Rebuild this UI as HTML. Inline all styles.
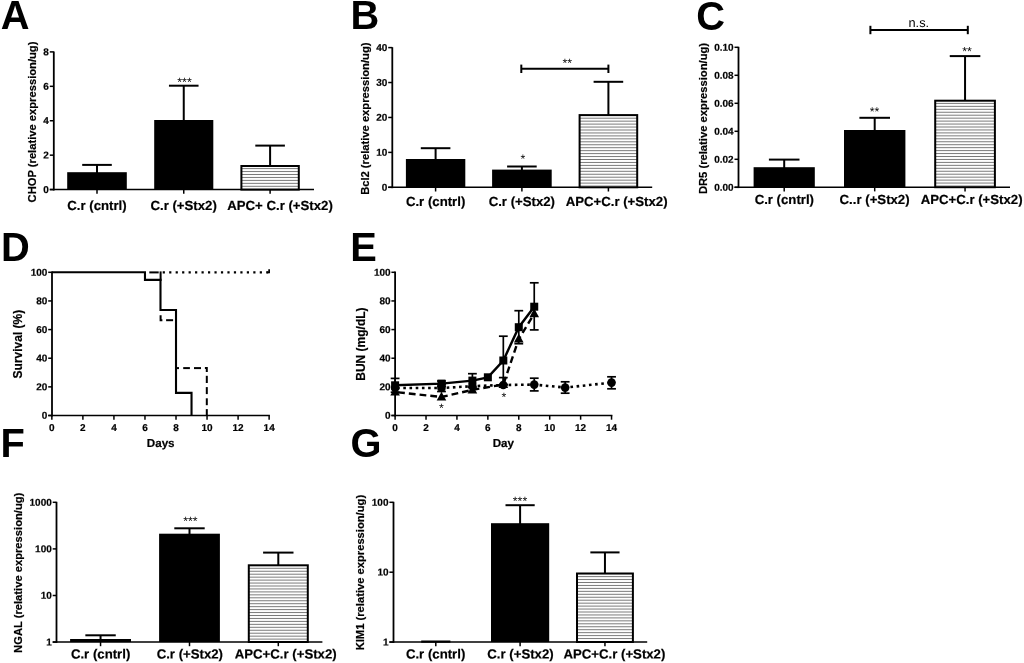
<!DOCTYPE html>
<html><head><meta charset="utf-8"><title>Figure</title>
<style>
html,body{margin:0;padding:0;background:#fff;}
body{width:1024px;height:663px;overflow:hidden;}
svg{display:block;font-family:"Liberation Sans",sans-serif;filter:grayscale(1);}
</style></head><body>
<svg width="1024" height="663" viewBox="0 0 1024 663">
<defs>
<pattern id="hA" x="0" y="1.925" width="10" height="2.95" patternUnits="userSpaceOnUse"><rect x="0" y="0" width="10" height="2.95" fill="#fff"/><rect x="0" y="0.975" width="10" height="1.0" fill="#7a7a7a"/></pattern>
<pattern id="hB" x="0" y="1.675" width="10" height="2.95" patternUnits="userSpaceOnUse"><rect x="0" y="0" width="10" height="2.95" fill="#fff"/><rect x="0" y="0.975" width="10" height="1.0" fill="#7a7a7a"/></pattern>
<pattern id="hC" x="0" y="1.625" width="10" height="2.95" patternUnits="userSpaceOnUse"><rect x="0" y="0" width="10" height="2.95" fill="#fff"/><rect x="0" y="0.975" width="10" height="1.0" fill="#7a7a7a"/></pattern>
<pattern id="hF" x="0" y="0.425" width="10" height="2.95" patternUnits="userSpaceOnUse"><rect x="0" y="0" width="10" height="2.95" fill="#fff"/><rect x="0" y="0.975" width="10" height="1.0" fill="#7a7a7a"/></pattern>
<pattern id="hG" x="0" y="2.825" width="10" height="2.95" patternUnits="userSpaceOnUse"><rect x="0" y="0" width="10" height="2.95" fill="#fff"/><rect x="0" y="0.975" width="10" height="1.0" fill="#7a7a7a"/></pattern>

</defs>
<rect width="1024" height="663" fill="#fff"/>

<text transform="translate(0.75,29.27) scale(0.96,1)" font-size="41.5" font-weight="bold">A</text>
<text transform="translate(350.50,29.02) scale(0.96,1)" font-size="41.5" font-weight="bold">B</text>
<text transform="translate(696.15,30.20) scale(0.96,1)" font-size="41.5" font-weight="bold">C</text>
<text transform="translate(1.08,261.43) scale(0.96,1)" font-size="41.5" font-weight="bold">D</text>
<text transform="translate(350.25,261.32) scale(0.96,1)" font-size="41.5" font-weight="bold">E</text>
<text transform="translate(0.50,456.60) scale(0.96,1)" font-size="41.5" font-weight="bold">F</text>
<text transform="translate(350.60,456.77) scale(0.96,1)" font-size="41.5" font-weight="bold">G</text>
<line x1="53.80" y1="51.50" x2="53.80" y2="190.50" stroke="#000" stroke-width="1.8" />
<line x1="49.80" y1="189.60" x2="314.00" y2="189.60" stroke="#000" stroke-width="1.5" />
<line x1="49.80" y1="51.90" x2="53.80" y2="51.90" stroke="#000" stroke-width="1.5" />
<text transform="translate(48.90,55.25) rotate(0.03)" font-size="10" text-anchor="end" font-weight="bold" fill="#000" stroke="#000" stroke-width="0.2" >8</text>
<line x1="49.80" y1="86.32" x2="53.80" y2="86.32" stroke="#000" stroke-width="1.5" />
<text transform="translate(48.90,89.67) rotate(0.03)" font-size="10" text-anchor="end" font-weight="bold" fill="#000" stroke="#000" stroke-width="0.2" >6</text>
<line x1="49.80" y1="120.74" x2="53.80" y2="120.74" stroke="#000" stroke-width="1.5" />
<text transform="translate(48.90,124.09) rotate(0.03)" font-size="10" text-anchor="end" font-weight="bold" fill="#000" stroke="#000" stroke-width="0.2" >4</text>
<line x1="49.80" y1="155.16" x2="53.80" y2="155.16" stroke="#000" stroke-width="1.5" />
<text transform="translate(48.90,158.51) rotate(0.03)" font-size="10" text-anchor="end" font-weight="bold" fill="#000" stroke="#000" stroke-width="0.2" >2</text>
<line x1="49.80" y1="189.58" x2="53.80" y2="189.58" stroke="#000" stroke-width="1.5" />
<text transform="translate(48.90,192.93) rotate(0.03)" font-size="10" text-anchor="end" font-weight="bold" fill="#000" stroke="#000" stroke-width="0.2" >0</text>
<line x1="97.00" y1="164.90" x2="97.00" y2="173.20" stroke="#000" stroke-width="2.0" />
<line x1="82.20" y1="164.90" x2="111.80" y2="164.90" stroke="#000" stroke-width="2.0" />
<rect x="67.20" y="172.20" width="59.60" height="17.40" fill="#000"/>
<line x1="97.00" y1="189.60" x2="97.00" y2="193.80" stroke="#000" stroke-width="1.5" />
<line x1="183.75" y1="85.70" x2="183.75" y2="121.00" stroke="#000" stroke-width="2.0" />
<line x1="168.95" y1="85.70" x2="198.55" y2="85.70" stroke="#000" stroke-width="2.0" />
<rect x="154.20" y="120.00" width="59.10" height="69.60" fill="#000"/>
<line x1="183.75" y1="189.60" x2="183.75" y2="193.80" stroke="#000" stroke-width="1.5" />
<line x1="270.10" y1="145.60" x2="270.10" y2="167.00" stroke="#000" stroke-width="2.0" />
<line x1="255.30" y1="145.60" x2="284.90" y2="145.60" stroke="#000" stroke-width="2.0" />
<rect x="241.40" y="166.00" width="57.40" height="23.60" fill="url(#hA)" stroke="#000" stroke-width="2"/>
<line x1="270.10" y1="189.60" x2="270.10" y2="193.80" stroke="#000" stroke-width="1.5" />
<text transform="translate(97.00,210.00) rotate(0.03)" font-size="13.2" text-anchor="middle" font-weight="bold" fill="#000" stroke="#000" stroke-width="0.2" >C.r (cntrl)</text>
<text transform="translate(183.60,210.00) rotate(0.03)" font-size="13.2" text-anchor="middle" font-weight="bold" fill="#000" stroke="#000" stroke-width="0.2" >C.r (+Stx2)</text>
<text transform="translate(280.00,210.00) rotate(0.03)" font-size="13.2" text-anchor="middle" font-weight="bold" fill="#000" stroke="#000" stroke-width="0.2" >APC+ C.r (+Stx2)</text>
<text transform="translate(184.50,86.30) rotate(0.03)" font-size="12.3" text-anchor="middle" font-weight="normal" fill="#000"  >***</text>
<text transform="translate(32.30,122.00) rotate(-90)" font-size="11.2" text-anchor="middle" font-weight="bold" dominant-baseline="central" stroke="#000" stroke-width="0.2">CHOP (relative expression/ug)</text>
<line x1="392.30" y1="47.20" x2="392.30" y2="188.20" stroke="#000" stroke-width="1.8" />
<line x1="388.20" y1="187.30" x2="652.20" y2="187.30" stroke="#000" stroke-width="1.5" />
<line x1="388.20" y1="47.60" x2="392.30" y2="47.60" stroke="#000" stroke-width="1.5" />
<text transform="translate(387.30,50.95) rotate(0.03)" font-size="10" text-anchor="end" font-weight="bold" fill="#000" stroke="#000" stroke-width="0.2" >40</text>
<line x1="388.20" y1="82.53" x2="392.30" y2="82.53" stroke="#000" stroke-width="1.5" />
<text transform="translate(387.30,85.88) rotate(0.03)" font-size="10" text-anchor="end" font-weight="bold" fill="#000" stroke="#000" stroke-width="0.2" >30</text>
<line x1="388.20" y1="117.46" x2="392.30" y2="117.46" stroke="#000" stroke-width="1.5" />
<text transform="translate(387.30,120.81) rotate(0.03)" font-size="10" text-anchor="end" font-weight="bold" fill="#000" stroke="#000" stroke-width="0.2" >20</text>
<line x1="388.20" y1="152.39" x2="392.30" y2="152.39" stroke="#000" stroke-width="1.5" />
<text transform="translate(387.30,155.74) rotate(0.03)" font-size="10" text-anchor="end" font-weight="bold" fill="#000" stroke="#000" stroke-width="0.2" >10</text>
<line x1="388.20" y1="187.32" x2="392.30" y2="187.32" stroke="#000" stroke-width="1.5" />
<text transform="translate(387.30,190.67) rotate(0.03)" font-size="10" text-anchor="end" font-weight="bold" fill="#000" stroke="#000" stroke-width="0.2" >0</text>
<line x1="435.60" y1="148.20" x2="435.60" y2="160.00" stroke="#000" stroke-width="2.0" />
<line x1="420.80" y1="148.20" x2="450.40" y2="148.20" stroke="#000" stroke-width="2.0" />
<rect x="405.90" y="159.00" width="59.40" height="28.30" fill="#000"/>
<line x1="435.60" y1="187.30" x2="435.60" y2="191.50" stroke="#000" stroke-width="1.5" />
<line x1="521.90" y1="166.50" x2="521.90" y2="170.60" stroke="#000" stroke-width="2.0" />
<line x1="507.10" y1="166.50" x2="536.70" y2="166.50" stroke="#000" stroke-width="2.0" />
<rect x="492.10" y="169.60" width="59.60" height="17.70" fill="#000"/>
<line x1="521.90" y1="187.30" x2="521.90" y2="191.50" stroke="#000" stroke-width="1.5" />
<line x1="608.40" y1="81.80" x2="608.40" y2="116.10" stroke="#000" stroke-width="2.0" />
<line x1="593.60" y1="81.80" x2="623.20" y2="81.80" stroke="#000" stroke-width="2.0" />
<rect x="579.60" y="115.10" width="57.60" height="72.20" fill="url(#hB)" stroke="#000" stroke-width="2"/>
<line x1="608.40" y1="187.30" x2="608.40" y2="191.50" stroke="#000" stroke-width="1.5" />
<text transform="translate(435.60,206.00) rotate(0.03)" font-size="13.2" text-anchor="middle" font-weight="bold" fill="#000" stroke="#000" stroke-width="0.2" >C.r (cntrl)</text>
<text transform="translate(521.80,206.00) rotate(0.03)" font-size="13.2" text-anchor="middle" font-weight="bold" fill="#000" stroke="#000" stroke-width="0.2" >C.r (+Stx2)</text>
<text transform="translate(616.60,206.00) rotate(0.03)" font-size="13.2" text-anchor="middle" font-weight="bold" fill="#000" stroke="#000" stroke-width="0.2" >APC+C.r (+Stx2)</text>
<line x1="521.30" y1="68.80" x2="608.40" y2="68.80" stroke="#000" stroke-width="2.0" />
<line x1="521.30" y1="64.60" x2="521.30" y2="73.00" stroke="#000" stroke-width="2.0" />
<line x1="608.40" y1="64.60" x2="608.40" y2="73.00" stroke="#000" stroke-width="2.0" />
<text transform="translate(567.30,67.30) rotate(0.03)" font-size="12.3" text-anchor="middle" font-weight="normal" fill="#000"  >**</text>
<text transform="translate(522.80,163.00) rotate(0.03)" font-size="12.3" text-anchor="middle" font-weight="normal" fill="#000"  >*</text>
<text transform="translate(364.90,118.70) rotate(-90)" font-size="11.2" text-anchor="middle" font-weight="bold" dominant-baseline="central" stroke="#000" stroke-width="0.2">Bcl2 (relative expression/ug)</text>
<line x1="738.50" y1="46.80" x2="738.50" y2="188.10" stroke="#000" stroke-width="1.8" />
<line x1="734.50" y1="187.20" x2="1010.00" y2="187.20" stroke="#000" stroke-width="1.5" />
<line x1="734.50" y1="47.30" x2="738.50" y2="47.30" stroke="#000" stroke-width="1.5" />
<text transform="translate(733.60,50.65) rotate(0.03)" font-size="10" text-anchor="end" font-weight="bold" fill="#000" stroke="#000" stroke-width="0.2" >0.10</text>
<line x1="734.50" y1="75.30" x2="738.50" y2="75.30" stroke="#000" stroke-width="1.5" />
<text transform="translate(733.60,78.65) rotate(0.03)" font-size="10" text-anchor="end" font-weight="bold" fill="#000" stroke="#000" stroke-width="0.2" >0.08</text>
<line x1="734.50" y1="103.30" x2="738.50" y2="103.30" stroke="#000" stroke-width="1.5" />
<text transform="translate(733.60,106.65) rotate(0.03)" font-size="10" text-anchor="end" font-weight="bold" fill="#000" stroke="#000" stroke-width="0.2" >0.06</text>
<line x1="734.50" y1="131.30" x2="738.50" y2="131.30" stroke="#000" stroke-width="1.5" />
<text transform="translate(733.60,134.65) rotate(0.03)" font-size="10" text-anchor="end" font-weight="bold" fill="#000" stroke="#000" stroke-width="0.2" >0.04</text>
<line x1="734.50" y1="159.30" x2="738.50" y2="159.30" stroke="#000" stroke-width="1.5" />
<text transform="translate(733.60,162.65) rotate(0.03)" font-size="10" text-anchor="end" font-weight="bold" fill="#000" stroke="#000" stroke-width="0.2" >0.02</text>
<line x1="734.50" y1="187.30" x2="738.50" y2="187.30" stroke="#000" stroke-width="1.5" />
<text transform="translate(733.60,190.65) rotate(0.03)" font-size="10" text-anchor="end" font-weight="bold" fill="#000" stroke="#000" stroke-width="0.2" >0.00</text>
<line x1="784.20" y1="159.60" x2="784.20" y2="168.20" stroke="#000" stroke-width="2.0" />
<line x1="768.90" y1="159.60" x2="799.50" y2="159.60" stroke="#000" stroke-width="2.0" />
<rect x="753.60" y="167.20" width="61.20" height="20.00" fill="#000"/>
<line x1="784.20" y1="187.20" x2="784.20" y2="191.40" stroke="#000" stroke-width="1.5" />
<line x1="874.70" y1="117.80" x2="874.70" y2="131.00" stroke="#000" stroke-width="2.0" />
<line x1="859.40" y1="117.80" x2="890.00" y2="117.80" stroke="#000" stroke-width="2.0" />
<rect x="844.00" y="130.00" width="61.40" height="57.20" fill="#000"/>
<line x1="874.70" y1="187.20" x2="874.70" y2="191.40" stroke="#000" stroke-width="1.5" />
<line x1="965.05" y1="56.10" x2="965.05" y2="101.70" stroke="#000" stroke-width="2.0" />
<line x1="949.75" y1="56.10" x2="980.35" y2="56.10" stroke="#000" stroke-width="2.0" />
<rect x="935.20" y="100.70" width="59.70" height="86.50" fill="url(#hC)" stroke="#000" stroke-width="2"/>
<line x1="965.05" y1="187.20" x2="965.05" y2="191.40" stroke="#000" stroke-width="1.5" />
<text transform="translate(784.30,204.00) rotate(0.03)" font-size="13.2" text-anchor="middle" font-weight="bold" fill="#000" stroke="#000" stroke-width="0.2" >C.r (cntrl)</text>
<text transform="translate(874.60,204.00) rotate(0.03)" font-size="13.2" text-anchor="middle" font-weight="bold" fill="#000" stroke="#000" stroke-width="0.2" >C..r (+Stx2)</text>
<text transform="translate(971.60,204.00) rotate(0.03)" font-size="13.2" text-anchor="middle" font-weight="bold" fill="#000" stroke="#000" stroke-width="0.2" >APC+C.r (+Stx2)</text>
<line x1="870.40" y1="30.00" x2="967.80" y2="30.00" stroke="#000" stroke-width="2.0" />
<line x1="870.40" y1="25.80" x2="870.40" y2="34.20" stroke="#000" stroke-width="2.0" />
<line x1="967.80" y1="25.80" x2="967.80" y2="34.20" stroke="#000" stroke-width="2.0" />
<text transform="translate(918.80,27.00) rotate(0.03)" font-size="12.8" text-anchor="middle" font-weight="normal" fill="#000"  >n.s.</text>
<text transform="translate(874.60,115.80) rotate(0.03)" font-size="12.3" text-anchor="middle" font-weight="normal" fill="#000"  >**</text>
<text transform="translate(967.00,55.50) rotate(0.03)" font-size="12.3" text-anchor="middle" font-weight="normal" fill="#000"  >**</text>
<text transform="translate(702.80,118.50) rotate(-90)" font-size="11.2" text-anchor="middle" font-weight="bold" dominant-baseline="central" stroke="#000" stroke-width="0.2">DR5 (relative expression/ug)</text>
<line x1="52.00" y1="271.50" x2="52.00" y2="416.40" stroke="#000" stroke-width="1.8" />
<line x1="48.20" y1="415.50" x2="269.90" y2="415.50" stroke="#000" stroke-width="1.5" />
<line x1="48.20" y1="272.30" x2="52.00" y2="272.30" stroke="#000" stroke-width="1.5" />
<text transform="translate(47.40,275.65) rotate(0.03)" font-size="10" text-anchor="end" font-weight="bold" fill="#000" stroke="#000" stroke-width="0.2" >100</text>
<line x1="48.20" y1="300.94" x2="52.00" y2="300.94" stroke="#000" stroke-width="1.5" />
<text transform="translate(47.40,304.29) rotate(0.03)" font-size="10" text-anchor="end" font-weight="bold" fill="#000" stroke="#000" stroke-width="0.2" >80</text>
<line x1="48.20" y1="329.58" x2="52.00" y2="329.58" stroke="#000" stroke-width="1.5" />
<text transform="translate(47.40,332.93) rotate(0.03)" font-size="10" text-anchor="end" font-weight="bold" fill="#000" stroke="#000" stroke-width="0.2" >60</text>
<line x1="48.20" y1="358.22" x2="52.00" y2="358.22" stroke="#000" stroke-width="1.5" />
<text transform="translate(47.40,361.57) rotate(0.03)" font-size="10" text-anchor="end" font-weight="bold" fill="#000" stroke="#000" stroke-width="0.2" >40</text>
<line x1="48.20" y1="386.86" x2="52.00" y2="386.86" stroke="#000" stroke-width="1.5" />
<text transform="translate(47.40,390.21) rotate(0.03)" font-size="10" text-anchor="end" font-weight="bold" fill="#000" stroke="#000" stroke-width="0.2" >20</text>
<line x1="48.20" y1="415.50" x2="52.00" y2="415.50" stroke="#000" stroke-width="1.5" />
<text transform="translate(47.40,418.85) rotate(0.03)" font-size="10" text-anchor="end" font-weight="bold" fill="#000" stroke="#000" stroke-width="0.2" >0</text>
<line x1="51.85" y1="415.50" x2="51.85" y2="419.70" stroke="#000" stroke-width="1.5" />
<text transform="translate(51.85,431.00) rotate(0.03)" font-size="10" text-anchor="middle" font-weight="bold" fill="#000" stroke="#000" stroke-width="0.2" >0</text>
<line x1="82.89" y1="415.50" x2="82.89" y2="419.70" stroke="#000" stroke-width="1.5" />
<text transform="translate(82.89,431.00) rotate(0.03)" font-size="10" text-anchor="middle" font-weight="bold" fill="#000" stroke="#000" stroke-width="0.2" >2</text>
<line x1="113.93" y1="415.50" x2="113.93" y2="419.70" stroke="#000" stroke-width="1.5" />
<text transform="translate(113.93,431.00) rotate(0.03)" font-size="10" text-anchor="middle" font-weight="bold" fill="#000" stroke="#000" stroke-width="0.2" >4</text>
<line x1="144.97" y1="415.50" x2="144.97" y2="419.70" stroke="#000" stroke-width="1.5" />
<text transform="translate(144.97,431.00) rotate(0.03)" font-size="10" text-anchor="middle" font-weight="bold" fill="#000" stroke="#000" stroke-width="0.2" >6</text>
<line x1="176.01" y1="415.50" x2="176.01" y2="419.70" stroke="#000" stroke-width="1.5" />
<text transform="translate(176.01,431.00) rotate(0.03)" font-size="10" text-anchor="middle" font-weight="bold" fill="#000" stroke="#000" stroke-width="0.2" >8</text>
<line x1="207.05" y1="415.50" x2="207.05" y2="419.70" stroke="#000" stroke-width="1.5" />
<text transform="translate(207.05,431.00) rotate(0.03)" font-size="10" text-anchor="middle" font-weight="bold" fill="#000" stroke="#000" stroke-width="0.2" >10</text>
<line x1="238.09" y1="415.50" x2="238.09" y2="419.70" stroke="#000" stroke-width="1.5" />
<text transform="translate(238.09,431.00) rotate(0.03)" font-size="10" text-anchor="middle" font-weight="bold" fill="#000" stroke="#000" stroke-width="0.2" >12</text>
<line x1="269.13" y1="415.50" x2="269.13" y2="419.70" stroke="#000" stroke-width="1.5" />
<text transform="translate(269.13,431.00) rotate(0.03)" font-size="10" text-anchor="middle" font-weight="bold" fill="#000" stroke="#000" stroke-width="0.2" >14</text>
<text transform="translate(160.70,446.90) rotate(0.03)" font-size="11.6" text-anchor="middle" font-weight="bold" fill="#000" stroke="#000" stroke-width="0.2" >Days</text>
<text transform="translate(17.90,344.10) rotate(-90)" font-size="12" text-anchor="middle" font-weight="bold" dominant-baseline="central" stroke="#000" stroke-width="0.2">Survival (%)</text>
<path d="M162.7,272.40 H268.3" fill="none" stroke="#000" stroke-width="2.1" stroke-dasharray="2.2 4.27"/>
<path d="M266.83,272.40 H269.13 V269.30" fill="none" stroke="#000" stroke-width="1.7"/>
<line x1="149.30" y1="272.40" x2="158.70" y2="272.40" stroke="#000" stroke-width="2.0" />
<line x1="160.60" y1="271.40" x2="160.60" y2="281.00" stroke="#000" stroke-width="2.0" />
<path d="M160.6,315.3 V320.2 H162.4" fill="none" stroke="#000" stroke-width="2"/>
<line x1="166.10" y1="320.20" x2="173.10" y2="320.20" stroke="#000" stroke-width="2.0" />
<line x1="176.50" y1="368.10" x2="179.00" y2="368.10" stroke="#000" stroke-width="2.0" />
<line x1="183.20" y1="368.10" x2="189.90" y2="368.10" stroke="#000" stroke-width="2.0" />
<line x1="194.00" y1="368.10" x2="201.00" y2="368.10" stroke="#000" stroke-width="2.0" />
<path d="M204.9,368.1 H206.8 V371.9" fill="none" stroke="#000" stroke-width="2"/>
<line x1="206.80" y1="375.80" x2="206.80" y2="383.00" stroke="#000" stroke-width="2.0" />
<line x1="206.80" y1="387.10" x2="206.80" y2="394.10" stroke="#000" stroke-width="2.0" />
<line x1="206.80" y1="398.30" x2="206.80" y2="405.20" stroke="#000" stroke-width="2.0" />
<line x1="206.80" y1="409.10" x2="206.80" y2="415.50" stroke="#000" stroke-width="2.0" />
<path d="M52.00,272.30 H144.97 V279.89 H160.49 V309.96 H176.01 V392.87 H191.53 V415.50" fill="none" stroke="#000" stroke-width="2.1" stroke-linejoin="miter"/>
<line x1="395.10" y1="271.50" x2="395.10" y2="416.40" stroke="#000" stroke-width="1.8" />
<line x1="391.40" y1="415.50" x2="612.40" y2="415.50" stroke="#000" stroke-width="1.5" />
<line x1="391.40" y1="272.30" x2="395.10" y2="272.30" stroke="#000" stroke-width="1.5" />
<text transform="translate(390.60,275.65) rotate(0.03)" font-size="10" text-anchor="end" font-weight="bold" fill="#000" stroke="#000" stroke-width="0.2" >100</text>
<line x1="391.40" y1="300.94" x2="395.10" y2="300.94" stroke="#000" stroke-width="1.5" />
<text transform="translate(390.60,304.29) rotate(0.03)" font-size="10" text-anchor="end" font-weight="bold" fill="#000" stroke="#000" stroke-width="0.2" >80</text>
<line x1="391.40" y1="329.58" x2="395.10" y2="329.58" stroke="#000" stroke-width="1.5" />
<text transform="translate(390.60,332.93) rotate(0.03)" font-size="10" text-anchor="end" font-weight="bold" fill="#000" stroke="#000" stroke-width="0.2" >60</text>
<line x1="391.40" y1="358.22" x2="395.10" y2="358.22" stroke="#000" stroke-width="1.5" />
<text transform="translate(390.60,361.57) rotate(0.03)" font-size="10" text-anchor="end" font-weight="bold" fill="#000" stroke="#000" stroke-width="0.2" >40</text>
<line x1="391.40" y1="386.86" x2="395.10" y2="386.86" stroke="#000" stroke-width="1.5" />
<text transform="translate(390.60,390.21) rotate(0.03)" font-size="10" text-anchor="end" font-weight="bold" fill="#000" stroke="#000" stroke-width="0.2" >20</text>
<line x1="391.40" y1="415.50" x2="395.10" y2="415.50" stroke="#000" stroke-width="1.5" />
<text transform="translate(390.60,418.85) rotate(0.03)" font-size="10" text-anchor="end" font-weight="bold" fill="#000" stroke="#000" stroke-width="0.2" >0</text>
<line x1="395.10" y1="415.50" x2="395.10" y2="419.70" stroke="#000" stroke-width="1.5" />
<text transform="translate(395.10,431.00) rotate(0.03)" font-size="10" text-anchor="middle" font-weight="bold" fill="#000" stroke="#000" stroke-width="0.2" >0</text>
<line x1="426.02" y1="415.50" x2="426.02" y2="419.70" stroke="#000" stroke-width="1.5" />
<text transform="translate(426.02,431.00) rotate(0.03)" font-size="10" text-anchor="middle" font-weight="bold" fill="#000" stroke="#000" stroke-width="0.2" >2</text>
<line x1="456.94" y1="415.50" x2="456.94" y2="419.70" stroke="#000" stroke-width="1.5" />
<text transform="translate(456.94,431.00) rotate(0.03)" font-size="10" text-anchor="middle" font-weight="bold" fill="#000" stroke="#000" stroke-width="0.2" >4</text>
<line x1="487.86" y1="415.50" x2="487.86" y2="419.70" stroke="#000" stroke-width="1.5" />
<text transform="translate(487.86,431.00) rotate(0.03)" font-size="10" text-anchor="middle" font-weight="bold" fill="#000" stroke="#000" stroke-width="0.2" >6</text>
<line x1="518.78" y1="415.50" x2="518.78" y2="419.70" stroke="#000" stroke-width="1.5" />
<text transform="translate(518.78,431.00) rotate(0.03)" font-size="10" text-anchor="middle" font-weight="bold" fill="#000" stroke="#000" stroke-width="0.2" >8</text>
<line x1="549.70" y1="415.50" x2="549.70" y2="419.70" stroke="#000" stroke-width="1.5" />
<text transform="translate(549.70,431.00) rotate(0.03)" font-size="10" text-anchor="middle" font-weight="bold" fill="#000" stroke="#000" stroke-width="0.2" >10</text>
<line x1="580.62" y1="415.50" x2="580.62" y2="419.70" stroke="#000" stroke-width="1.5" />
<text transform="translate(580.62,431.00) rotate(0.03)" font-size="10" text-anchor="middle" font-weight="bold" fill="#000" stroke="#000" stroke-width="0.2" >12</text>
<line x1="611.54" y1="415.50" x2="611.54" y2="419.70" stroke="#000" stroke-width="1.5" />
<text transform="translate(611.54,431.00) rotate(0.03)" font-size="10" text-anchor="middle" font-weight="bold" fill="#000" stroke="#000" stroke-width="0.2" >14</text>
<text transform="translate(503.30,446.90) rotate(0.03)" font-size="11.6" text-anchor="middle" font-weight="bold" fill="#000" stroke="#000" stroke-width="0.2" >Day</text>
<text transform="translate(360.70,344.10) rotate(-90)" font-size="12" text-anchor="middle" font-weight="bold" dominant-baseline="central" stroke="#000" stroke-width="0.2">BUN (mg/dL)</text>
<line x1="395.10" y1="378.40" x2="395.10" y2="392.20" stroke="#000" stroke-width="1.7" />
<line x1="390.70" y1="378.40" x2="399.50" y2="378.40" stroke="#000" stroke-width="1.7" />
<line x1="390.70" y1="392.20" x2="399.50" y2="392.20" stroke="#000" stroke-width="1.7" />
<line x1="441.48" y1="381.00" x2="441.48" y2="386.20" stroke="#000" stroke-width="1.7" />
<line x1="437.08" y1="381.00" x2="445.88" y2="381.00" stroke="#000" stroke-width="1.7" />
<line x1="437.08" y1="386.20" x2="445.88" y2="386.20" stroke="#000" stroke-width="1.7" />
<line x1="472.40" y1="373.70" x2="472.40" y2="387.50" stroke="#000" stroke-width="1.7" />
<line x1="468.00" y1="373.70" x2="476.80" y2="373.70" stroke="#000" stroke-width="1.7" />
<line x1="468.00" y1="387.50" x2="476.80" y2="387.50" stroke="#000" stroke-width="1.7" />
<line x1="503.32" y1="336.20" x2="503.32" y2="384.80" stroke="#000" stroke-width="1.7" />
<line x1="498.92" y1="336.20" x2="507.72" y2="336.20" stroke="#000" stroke-width="1.7" />
<line x1="498.92" y1="384.80" x2="507.72" y2="384.80" stroke="#000" stroke-width="1.7" />
<line x1="518.78" y1="310.70" x2="518.78" y2="343.70" stroke="#000" stroke-width="1.7" />
<line x1="514.38" y1="310.70" x2="523.18" y2="310.70" stroke="#000" stroke-width="1.7" />
<line x1="514.38" y1="343.70" x2="523.18" y2="343.70" stroke="#000" stroke-width="1.7" />
<line x1="534.24" y1="282.80" x2="534.24" y2="329.90" stroke="#000" stroke-width="1.7" />
<line x1="529.84" y1="282.80" x2="538.64" y2="282.80" stroke="#000" stroke-width="1.7" />
<line x1="529.84" y1="329.90" x2="538.64" y2="329.90" stroke="#000" stroke-width="1.7" />
<line x1="503.32" y1="377.60" x2="503.32" y2="384.50" stroke="#000" stroke-width="1.7" />
<line x1="498.92" y1="377.60" x2="507.72" y2="377.60" stroke="#000" stroke-width="1.7" />
<line x1="498.92" y1="384.50" x2="507.72" y2="384.50" stroke="#000" stroke-width="1.7" />
<line x1="441.48" y1="384.50" x2="441.48" y2="391.50" stroke="#000" stroke-width="1.7" />
<line x1="437.08" y1="384.50" x2="445.88" y2="384.50" stroke="#000" stroke-width="1.7" />
<line x1="437.08" y1="391.50" x2="445.88" y2="391.50" stroke="#000" stroke-width="1.7" />
<line x1="534.24" y1="378.20" x2="534.24" y2="390.90" stroke="#000" stroke-width="1.7" />
<line x1="529.84" y1="378.20" x2="538.64" y2="378.20" stroke="#000" stroke-width="1.7" />
<line x1="529.84" y1="390.90" x2="538.64" y2="390.90" stroke="#000" stroke-width="1.7" />
<line x1="565.16" y1="381.80" x2="565.16" y2="393.20" stroke="#000" stroke-width="1.7" />
<line x1="560.76" y1="381.80" x2="569.56" y2="381.80" stroke="#000" stroke-width="1.7" />
<line x1="560.76" y1="393.20" x2="569.56" y2="393.20" stroke="#000" stroke-width="1.7" />
<line x1="611.54" y1="376.80" x2="611.54" y2="388.80" stroke="#000" stroke-width="1.7" />
<line x1="607.14" y1="376.80" x2="615.94" y2="376.80" stroke="#000" stroke-width="1.7" />
<line x1="607.14" y1="388.80" x2="615.94" y2="388.80" stroke="#000" stroke-width="1.7" />
<polyline points="395.10,388.00 441.48,388.00 472.40,386.20 503.32,385.00 534.24,384.60 565.16,387.60 611.54,382.60" fill="none" stroke="#000" stroke-width="2.6" stroke-dasharray="2.6 3.6" stroke-dashoffset="-2"/>
<polyline points="395.10,392.00 441.48,397.00 472.40,389.90 503.32,384.50 518.78,339.00 534.24,313.70" fill="none" stroke="#000" stroke-width="2.4" stroke-dasharray="6.8 4.0" stroke-dashoffset="-3"/>
<polyline points="395.10,385.30 441.48,383.60 472.40,380.60 487.86,377.30 503.32,360.50 518.78,327.20 534.24,306.70" fill="none" stroke="#000" stroke-width="2.4"/>
<circle cx="395.10" cy="388.00" r="4.3" fill="#000"/>
<circle cx="441.48" cy="388.00" r="4.3" fill="#000"/>
<circle cx="472.40" cy="386.20" r="4.3" fill="#000"/>
<circle cx="503.32" cy="385.00" r="4.3" fill="#000"/>
<circle cx="534.24" cy="384.60" r="4.3" fill="#000"/>
<circle cx="565.16" cy="387.60" r="4.3" fill="#000"/>
<circle cx="611.54" cy="382.60" r="4.3" fill="#000"/>
<path d="M395.10,386.80 L399.90,395.60 H390.30 Z" fill="#000"/>
<path d="M441.48,391.80 L446.28,400.60 H436.68 Z" fill="#000"/>
<path d="M472.40,384.70 L477.20,393.50 H467.60 Z" fill="#000"/>
<path d="M503.32,379.30 L508.12,388.10 H498.52 Z" fill="#000"/>
<path d="M518.78,333.80 L523.58,342.60 H513.98 Z" fill="#000"/>
<path d="M534.24,308.50 L539.04,317.30 H529.44 Z" fill="#000"/>
<rect x="391.10" y="381.30" width="8" height="8" fill="#000"/>
<rect x="437.48" y="379.60" width="8" height="8" fill="#000"/>
<rect x="468.40" y="376.60" width="8" height="8" fill="#000"/>
<rect x="483.86" y="373.30" width="8" height="8" fill="#000"/>
<rect x="499.32" y="356.50" width="8" height="8" fill="#000"/>
<rect x="514.78" y="323.20" width="8" height="8" fill="#000"/>
<rect x="530.24" y="302.70" width="8" height="8" fill="#000"/>
<text transform="translate(441.50,412.30) rotate(0.03)" font-size="12.3" text-anchor="middle" font-weight="normal" fill="#000"  >*</text>
<text transform="translate(504.00,401.30) rotate(0.03)" font-size="12.3" text-anchor="middle" font-weight="normal" fill="#000"  >*</text>
<line x1="56.50" y1="501.80" x2="56.50" y2="642.90" stroke="#000" stroke-width="1.8" />
<line x1="52.70" y1="642.00" x2="322.40" y2="642.00" stroke="#000" stroke-width="1.5" />
<line x1="52.70" y1="502.30" x2="56.50" y2="502.30" stroke="#000" stroke-width="1.5" />
<text transform="translate(51.80,505.65) rotate(0.03)" font-size="10" text-anchor="end" font-weight="bold" fill="#000" stroke="#000" stroke-width="0.2" >1000</text>
<line x1="52.70" y1="548.90" x2="56.50" y2="548.90" stroke="#000" stroke-width="1.5" />
<text transform="translate(51.80,552.25) rotate(0.03)" font-size="10" text-anchor="end" font-weight="bold" fill="#000" stroke="#000" stroke-width="0.2" >100</text>
<line x1="52.70" y1="595.50" x2="56.50" y2="595.50" stroke="#000" stroke-width="1.5" />
<text transform="translate(51.80,598.85) rotate(0.03)" font-size="10" text-anchor="end" font-weight="bold" fill="#000" stroke="#000" stroke-width="0.2" >10</text>
<line x1="52.70" y1="642.10" x2="56.50" y2="642.10" stroke="#000" stroke-width="1.5" />
<text transform="translate(51.80,645.45) rotate(0.03)" font-size="10" text-anchor="end" font-weight="bold" fill="#000" stroke="#000" stroke-width="0.2" >1</text>
<line x1="100.55" y1="635.30" x2="100.55" y2="640.00" stroke="#000" stroke-width="2.0" />
<line x1="85.35" y1="635.30" x2="115.75" y2="635.30" stroke="#000" stroke-width="2.0" />
<rect x="70.10" y="639.00" width="60.90" height="3.00" fill="#000"/>
<line x1="100.55" y1="642.00" x2="100.55" y2="646.20" stroke="#000" stroke-width="1.5" />
<line x1="189.50" y1="528.30" x2="189.50" y2="534.70" stroke="#000" stroke-width="2.0" />
<line x1="174.30" y1="528.30" x2="204.70" y2="528.30" stroke="#000" stroke-width="2.0" />
<rect x="159.10" y="533.70" width="60.80" height="108.30" fill="#000"/>
<line x1="189.50" y1="642.00" x2="189.50" y2="646.20" stroke="#000" stroke-width="1.5" />
<line x1="278.30" y1="552.60" x2="278.30" y2="566.30" stroke="#000" stroke-width="2.0" />
<line x1="263.10" y1="552.60" x2="293.50" y2="552.60" stroke="#000" stroke-width="2.0" />
<rect x="248.80" y="565.30" width="59.00" height="76.70" fill="url(#hF)" stroke="#000" stroke-width="2"/>
<line x1="278.30" y1="642.00" x2="278.30" y2="646.20" stroke="#000" stroke-width="1.5" />
<text transform="translate(100.60,658.60) rotate(0.03)" font-size="13.2" text-anchor="middle" font-weight="bold" fill="#000" stroke="#000" stroke-width="0.2" >C.r (cntrl)</text>
<text transform="translate(189.80,658.60) rotate(0.03)" font-size="13.2" text-anchor="middle" font-weight="bold" fill="#000" stroke="#000" stroke-width="0.2" >C.r (+Stx2)</text>
<text transform="translate(285.70,658.60) rotate(0.03)" font-size="13.2" text-anchor="middle" font-weight="bold" fill="#000" stroke="#000" stroke-width="0.2" >APC+C.r (+Stx2)</text>
<text transform="translate(190.30,525.30) rotate(0.03)" font-size="12.3" text-anchor="middle" font-weight="normal" fill="#000"  >***</text>
<text transform="translate(18.10,572.80) rotate(-90)" font-size="11.2" text-anchor="middle" font-weight="bold" dominant-baseline="central" stroke="#000" stroke-width="0.2">NGAL (relative expression/ug)</text>
<line x1="393.50" y1="501.80" x2="393.50" y2="642.90" stroke="#000" stroke-width="1.8" />
<line x1="389.40" y1="642.00" x2="647.20" y2="642.00" stroke="#000" stroke-width="1.5" />
<line x1="389.40" y1="502.30" x2="393.50" y2="502.30" stroke="#000" stroke-width="1.5" />
<text transform="translate(388.50,505.65) rotate(0.03)" font-size="10" text-anchor="end" font-weight="bold" fill="#000" stroke="#000" stroke-width="0.2" >100</text>
<line x1="389.40" y1="572.20" x2="393.50" y2="572.20" stroke="#000" stroke-width="1.5" />
<text transform="translate(388.50,575.55) rotate(0.03)" font-size="10" text-anchor="end" font-weight="bold" fill="#000" stroke="#000" stroke-width="0.2" >10</text>
<line x1="389.40" y1="642.10" x2="393.50" y2="642.10" stroke="#000" stroke-width="1.5" />
<text transform="translate(388.50,645.45) rotate(0.03)" font-size="10" text-anchor="end" font-weight="bold" fill="#000" stroke="#000" stroke-width="0.2" >1</text>
<line x1="421.20" y1="641.60" x2="450.40" y2="641.60" stroke="#000" stroke-width="2.2" />
<line x1="435.80" y1="642.00" x2="435.80" y2="646.20" stroke="#000" stroke-width="1.5" />
<line x1="520.10" y1="505.20" x2="520.10" y2="524.20" stroke="#000" stroke-width="2.0" />
<line x1="505.50" y1="505.20" x2="534.70" y2="505.20" stroke="#000" stroke-width="2.0" />
<rect x="491.00" y="523.20" width="58.20" height="118.80" fill="#000"/>
<line x1="520.10" y1="642.00" x2="520.10" y2="646.20" stroke="#000" stroke-width="1.5" />
<line x1="604.95" y1="552.40" x2="604.95" y2="574.50" stroke="#000" stroke-width="2.0" />
<line x1="590.35" y1="552.40" x2="619.55" y2="552.40" stroke="#000" stroke-width="2.0" />
<rect x="577.00" y="573.50" width="55.90" height="68.50" fill="url(#hG)" stroke="#000" stroke-width="2"/>
<line x1="604.95" y1="642.00" x2="604.95" y2="646.20" stroke="#000" stroke-width="1.5" />
<text transform="translate(435.60,658.60) rotate(0.03)" font-size="13.2" text-anchor="middle" font-weight="bold" fill="#000" stroke="#000" stroke-width="0.2" >C.r (cntrl)</text>
<text transform="translate(520.50,658.60) rotate(0.03)" font-size="13.2" text-anchor="middle" font-weight="bold" fill="#000" stroke="#000" stroke-width="0.2" >C.r (+Stx2)</text>
<text transform="translate(614.40,658.60) rotate(0.03)" font-size="13.2" text-anchor="middle" font-weight="bold" fill="#000" stroke="#000" stroke-width="0.2" >APC+C.r (+Stx2)</text>
<text transform="translate(520.00,505.30) rotate(0.03)" font-size="12.3" text-anchor="middle" font-weight="normal" fill="#000"  >***</text>
<text transform="translate(359.60,572.60) rotate(-90)" font-size="11.2" text-anchor="middle" font-weight="bold" dominant-baseline="central" stroke="#000" stroke-width="0.2">KIM1 (relative expression/ug)</text>
</svg></body></html>
